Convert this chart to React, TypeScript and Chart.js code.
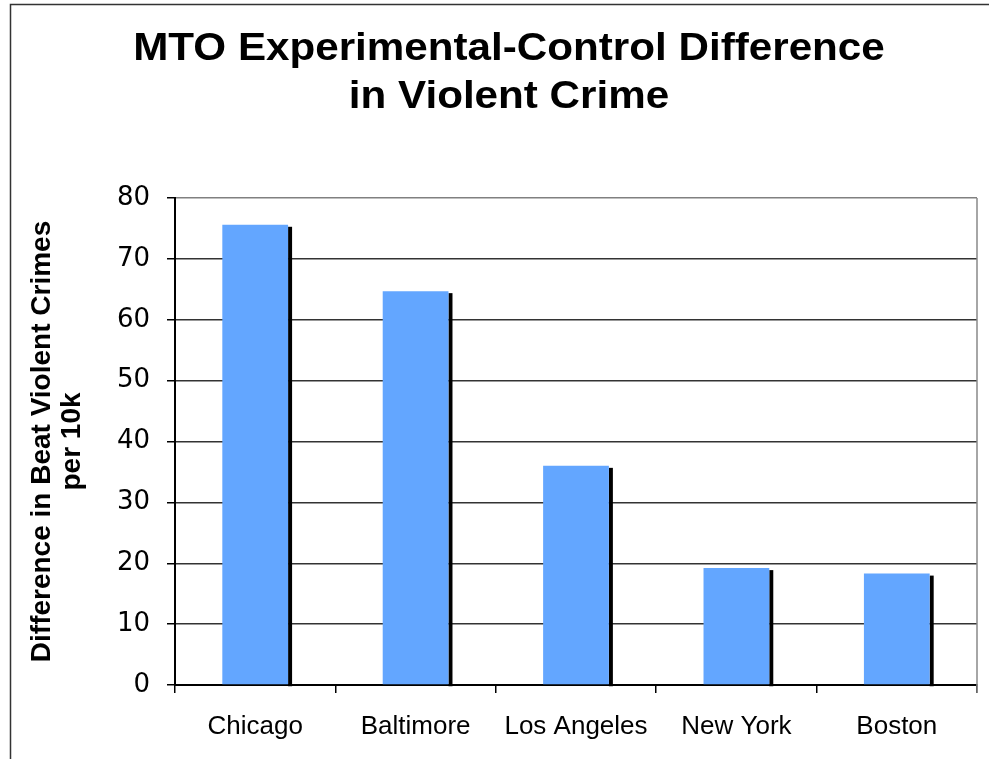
import React, { useEffect, useRef } from "react";
import { Chart, registerables } from "chart.js";

Chart.register(...registerables);

const cities = ["Chicago", "Baltimore", "Los Angeles", "New York", "Boston"];
const differences = [75.6, 64.7, 36.0, 19.2, 18.3];
const titleLines = ["MTO Experimental-Control Difference", "in Violent Crime"];
const yTitleLines = ["Difference in Beat Violent Crimes", "per 10k"];

const framePlugin = {
  id: "frame",
  beforeDraw(chart: any) {
    const ctx = chart.ctx;
    ctx.save();
    ctx.fillStyle = "#ffffff";
    ctx.fillRect(0, 0, chart.width, chart.height);
    ctx.strokeStyle = "#333333";
    ctx.lineWidth = 1.5;
    ctx.strokeRect(10.5, 4.5, 1100, 900);
    ctx.restore();
  },
  afterDraw(chart: any) {
    const ctx = chart.ctx;
    const a = chart.chartArea;
    ctx.save();
    ctx.strokeStyle = "#888888";
    ctx.lineWidth = 1.5;
    ctx.beginPath();
    ctx.moveTo(a.right, a.top);
    ctx.lineTo(a.right, a.bottom + 8);
    ctx.stroke();
    // chart title
    ctx.fillStyle = "#000";
    ctx.font = "bold 38px 'Liberation Sans', Arial, sans-serif";
    ctx.textAlign = "center";
    ctx.textBaseline = "alphabetic";
    const baselines = [60, 108];
    titleLines.forEach((line, i) => {
      ctx.save();
      ctx.translate(509, baselines[i]);
      ctx.scale(1.11, 1);
      ctx.fillText(line, 0, 0);
      ctx.restore();
    });
    ctx.restore();
  },
};

const shadowPlugin = {
  id: "barShadow",
  beforeDatasetsDraw(chart: any) {
    const ctx = chart.ctx;
    const meta = chart.getDatasetMeta(0);
    ctx.save();
    ctx.fillStyle = "#000000";
    meta.data.forEach((el: any) => {
      const p = el.getProps(["x", "y", "width", "base"], true);
      ctx.fillRect(p.x + p.width / 2, p.y + 2, 4, p.base - p.y);
    });
    ctx.restore();
  },
};

export default function App() {
  const ref = useRef<HTMLCanvasElement | null>(null);
  useEffect(() => {
    if (!ref.current) return;
    const chart = new Chart(ref.current, {
      type: "bar",
      data: {
        labels: cities,
        datasets: [
          {
            data: differences,
            backgroundColor: "#63A6FF",
            borderWidth: 0,
            categoryPercentage: 1,
            barPercentage: 0.41,
          },
        ],
      },
      options: {
        responsive: false,
        animation: false,
        layout: { padding: { left: 0, right: 12, top: 198, bottom: 0 } },
        plugins: {
          legend: { display: false },
          tooltip: { enabled: false },
          title: { display: false },
        },
        scales: {
          x: {
            grid: { offset: true, drawOnChartArea: false, drawTicks: true, tickLength: 8, color: "#000", lineWidth: 1.5 },
            border: { color: "#000", width: 2 },
            ticks: { color: "#000", font: { family: "'Liberation Sans', Arial, sans-serif", size: 26 }, padding: 18, maxRotation: 0, autoSkip: false },
            afterFit: (s: any) => { s.height = 74; },
          },
          y: {
            min: 0,
            max: 80,
            ticks: { stepSize: 10, color: "#000", font: { family: "'DejaVu Sans', sans-serif", size: 26 }, padding: 17 },
            grid: {
              color: (c: any) => (c.tick && c.tick.value === 80 ? "#808080" : "#333333"),
              lineWidth: 1.5,
              tickLength: 8,
              drawTicks: true,
              tickColor: "#000",
            },
            border: { color: "#000", width: 2 },
            title: {
              display: true,
              text: yTitleLines,
              color: "#000",
              font: { family: "'Liberation Sans', Arial, sans-serif", size: 28, weight: "bold", lineHeight: 1.07 },
              padding: { top: 27, bottom: 0 },
            },
            afterFit: (s: any) => { s.width = 175; },
          },
        },
      },
      plugins: [framePlugin, shadowPlugin],
    } as any);
    return () => chart.destroy();
  }, []);
  return (
    <div style={{ position: "absolute", left: 0, top: 0, width: 989, height: 759, background: "#fff" }}>
      <canvas ref={ref} width={989} height={759} style={{ display: "block" }} />
    </div>
  );
}
